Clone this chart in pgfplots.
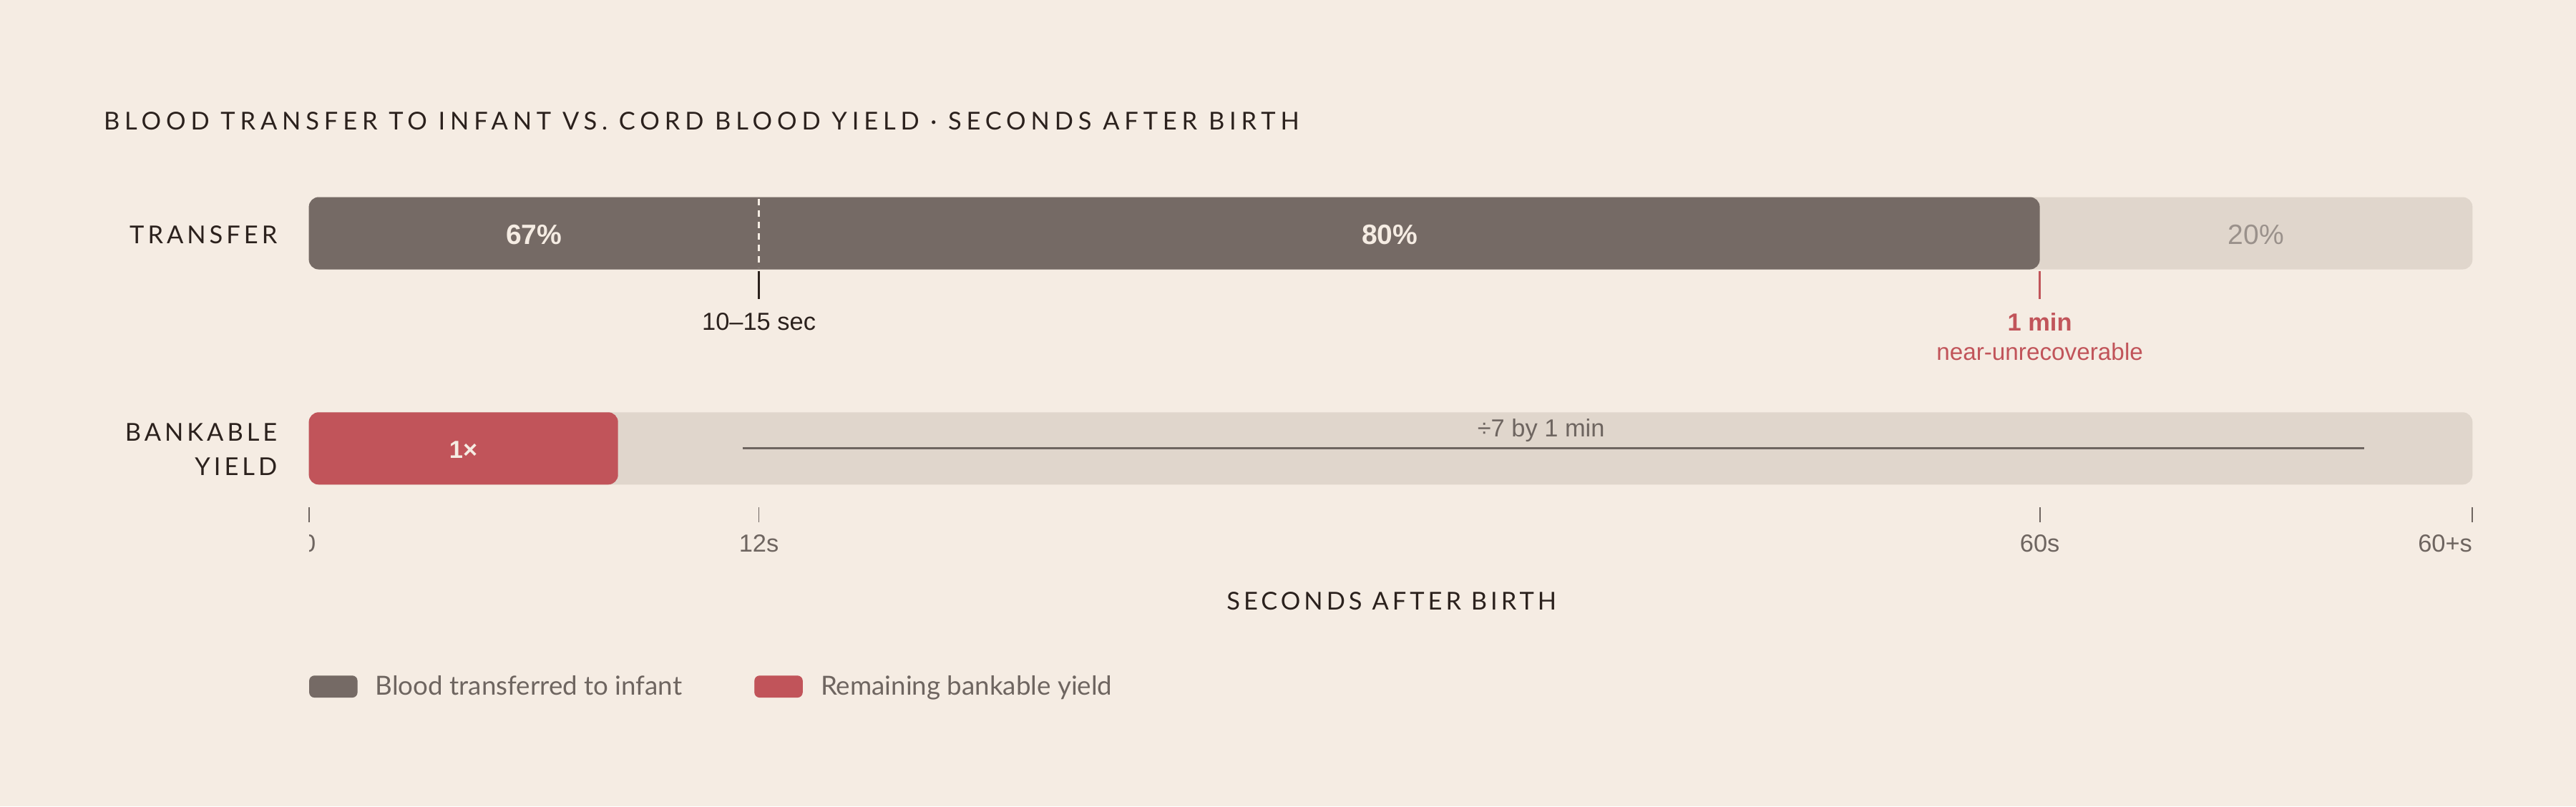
\documentclass[border=0pt]{standalone}
\usepackage{pgfplots}
\pgfplotsset{compat=1.18}
\usepackage{fontspec}
\setmainfont{Liberation Sans}
\newfontfamily\lato{Lato}
\newfontfamily\latocaps[LetterSpace=14.5]{Lato}
\newfontfamily\latotitle[LetterSpace=19.9]{Lato}

\definecolor{bg}{HTML}{F5ECE3}
\definecolor{track}{HTML}{E0D6CC}
\definecolor{infant}{HTML}{756A65}
\definecolor{yieldred}{HTML}{C1545A}
\definecolor{ink}{HTML}{2B211D}
\definecolor{muted}{HTML}{6E6560}
\definecolor{faint}{HTML}{9A918B}

% positions in percent of the track; rows at their pixel height
\pgfplotstableread{
x   y
100 142
100 273
}\track
\pgfplotstableread{
x  y
80 142
}\transfer
\pgfplotstableread{
x     y
14.29 273
}\bankable

\begin{document}
\begin{tikzpicture}
\fill[bg] (0,0) rectangle (1568pt,491pt);
\begin{axis}[
  at={(0,0)}, anchor=south west,
  scale only axis, width=1568pt, height=491pt,
  xmin=-14.2749, xmax=104.784,
  ymin=0, ymax=491, y dir=reverse,
  hide axis, clip=false,
  bar width=44pt,
  legend columns=2,
  legend style={
    at={(0.1199,0.1487)}, anchor=west,
    draw=none, fill=none, inner sep=0pt,
    font=\lato\fontsize{16}{19}\selectfont, text=muted,
    nodes={inner sep=0pt},
    /tikz/every odd column/.append style={column sep=11pt},
    /tikz/every even column/.append style={column sep=44pt},
  },
]
% bars
\addplot[xbar, bar shift=0pt, fill=track, draw=none, rounded corners=6pt, forget plot] table {\track};
\addplot[xbar, bar shift=0pt, fill=infant, draw=none, rounded corners=6pt, forget plot] table {\transfer};
\addplot[xbar, bar shift=0pt, fill=yieldred, draw=none, rounded corners=6pt, forget plot] table {\bankable};

% 10-15 sec marker
\addplot[bg, line width=1.3pt, dash pattern=on 4pt off 3pt, forget plot] coordinates {(20.8,121) (20.8,163)};
\addplot[ink, line width=1pt, forget plot] coordinates {(20.8,165) (20.8,182)};
% 1 min marker
\addplot[yieldred, line width=1.4pt, forget plot] coordinates {(80,165) (80,182)};
% divide-by-seven span
\addplot[muted, line width=1.2pt, forget plot] coordinates {(20.05,273) (95,273)};

% scale ticks
\addplot[muted, line width=0.8pt, forget plot] coordinates {(0,309) (0,318)};
\addplot[muted, line width=0.8pt, forget plot] coordinates {(20.8,309) (20.8,318)};
\addplot[muted, line width=0.8pt, forget plot] coordinates {(80,309) (80,318)};
\addplot[muted, line width=0.8pt, forget plot] coordinates {(100,309) (100,318)};

% legend
\addlegendimage{legend image code/.code={\fill[infant, rounded corners=3pt] (0pt,-6.5pt) rectangle (29pt,6.5pt);}}
\addlegendentry{Blood transferred to infant}
\addlegendimage{legend image code/.code={\fill[yieldred, rounded corners=3pt] (0pt,-6.5pt) rectangle (29pt,6.5pt);}}
\addlegendentry{Remaining bankable yield}

% texts
\node[anchor=west, inner sep=0pt, text=ink, font=\latotitle\fontsize{15}{18}\selectfont]
  at (axis cs:-9.491,73.5) {BLOOD TRANSFER TO INFANT VS. CORD BLOOD YIELD · SECONDS AFTER BIRTH};
\node[anchor=east, inner sep=0pt, text=ink, font=\latocaps\fontsize{15}{18}\selectfont]
  at (axis cs:-1.45,143) {TRANSFER};
\node[anchor=east, inner sep=0pt, align=right, text=ink, font=\latocaps\fontsize{15}{21}\selectfont]
  at (axis cs:-1.45,273.5) {BANKABLE\\YIELD};

\node[text=bg, font=\bfseries\fontsize{17}{20}\selectfont] at (axis cs:10.4,143) {67\%};
\node[text=bg, font=\bfseries\fontsize{17}{20}\selectfont] at (axis cs:49.96,143) {80\%};
\node[text=faint, font=\fontsize{17}{20}\selectfont] at (axis cs:90,143) {20\%};

\node[text=ink, font=\fontsize{15}{18}\selectfont] at (axis cs:20.8,196) {10–15 sec};
\node[text=yieldred, font=\bfseries\fontsize{15}{18}\selectfont] at (axis cs:80,196) {1 min};
\node[text=yieldred, font=\fontsize{14.5}{17}\selectfont] at (axis cs:80,214) {near-unrecoverable};

\node[text=bg, font=\bfseries\fontsize{15}{18}\selectfont] at (axis cs:7.14,274) {1×};
\node[text=muted, font=\fontsize{15}{18}\selectfont] at (axis cs:56.95,262) {÷7 by 1 min};

\node[text=muted, font=\fontsize{15}{18}\selectfont] at (axis cs:0,331) {0};
\fill[bg] (axis cs:-1.2,320) rectangle (axis cs:0,342);
\node[text=muted, font=\fontsize{15}{18}\selectfont] at (axis cs:20.8,331) {12s};
\node[text=muted, font=\fontsize{15}{18}\selectfont] at (axis cs:80,331) {60s};
\node[anchor=east, inner sep=0pt, text=muted, font=\fontsize{15}{18}\selectfont] at (axis cs:100,331) {60+s};

\node[text=ink, font=\latocaps\fontsize{15}{18}\selectfont] at (axis cs:50.04,366) {SECONDS AFTER BIRTH};
\end{axis}
\end{tikzpicture}
\end{document}
